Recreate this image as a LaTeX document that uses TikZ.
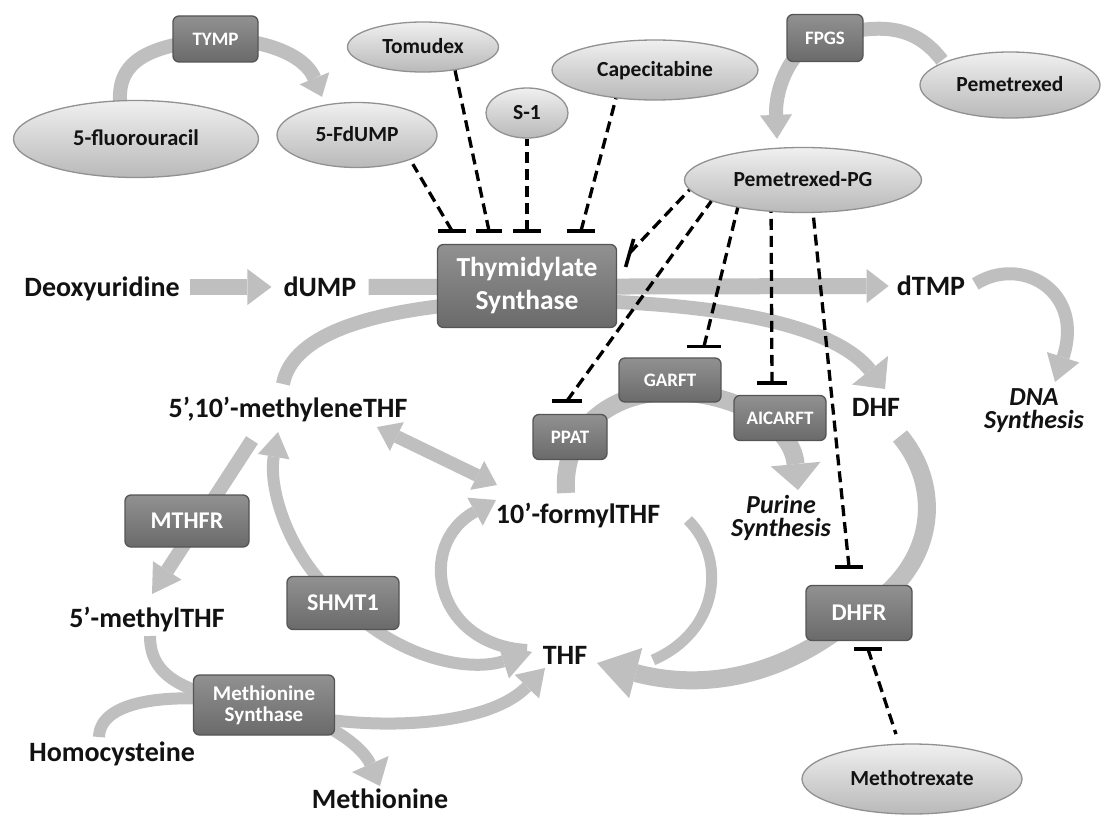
\documentclass[tikz,border=0pt]{standalone}
\usepackage{fontspec}
\setmainfont{Carlito}
\usetikzlibrary{shapes.geometric,arrows.meta,calc}
\definecolor{arrowgray}{RGB}{191,191,191}
\definecolor{elltop}{RGB}{240,240,240}
\definecolor{ellmid}{RGB}{212,212,212}
\definecolor{ellbot}{RGB}{185,185,185}
\definecolor{ellline}{RGB}{145,145,145}
\definecolor{boxtop}{RGB}{145,145,145}
\definecolor{boxbot}{RGB}{106,106,106}
\definecolor{boxline}{RGB}{85,85,85}
\definecolor{txt}{RGB}{18,18,18}
\pgfdeclarelayer{back}
\pgfdeclarelayer{arrows}
\pgfsetlayers{back,arrows,main}
\begin{document}
\begin{tikzpicture}[x=1pt,y=-1pt,
  lab/.style={font=\fontsize{28}{21}\selectfont\bfseries, text=txt, inner sep=0pt, text height=18pt, text depth=0pt},
  itlab/.style={font=\fontsize{26}{23}\selectfont\bfseries\itshape, text=txt, inner sep=0pt, align=center},
  ell/.style={ellipse, draw=ellline, line width=1.3pt, top color=elltop, bottom color=ellbot, middle color=ellmid, inner sep=0pt, font=\fontsize{21.5}{22}\selectfont\bfseries, text=txt, text height=13.8pt, text depth=0pt},
  enzbase/.style={rectangle, rounded corners=6pt, draw=boxline, line width=1.3pt, top color=boxtop, bottom color=boxbot, inner sep=0pt, text=white, align=center},
  enz/.style={enzbase, font=\fontsize{19}{19}\selectfont\bfseries, text height=12.2pt, text depth=0pt},
  enzM/.style={enzbase, font=\fontsize{24}{24}\selectfont\bfseries, text height=15.5pt, text depth=0pt},
  enzTS/.style={enzbase, font=\fontsize{27.5}{33}\selectfont\bfseries},
  enzMS/.style={enzbase, font=\fontsize{21}{21}\selectfont\bfseries},
  garrow/.style={draw=arrowgray, line width=#1},
  garrow/.default=14pt,
  inh/.style={draw=black, line width=3.3pt, dash pattern=on 11pt off 6pt},
  tbar/.style={draw=black, line width=3.6pt}
]
\useasboundingbox (0,0) rectangle (1101,816);
\begin{pgfonlayer}{back}
  \fill[white] (0,0) rectangle (1101,816);
\end{pgfonlayer}

% ---------- drugs (ellipses)
\node[ell, minimum width=245pt, minimum height=77pt, font=\fontsize{22.5}{22}\selectfont\bfseries] (fu) at (136,139) {5-fluorouracil};
\node[ell, minimum width=160pt, minimum height=65pt] (fdump) at (357,135) {5-FdUMP};
\node[ell, minimum width=151pt, minimum height=50pt] (tom) at (423,47) {Tomudex};
\node[ell, minimum width=82pt, minimum height=50pt] (s1) at (527,113) {S-1};
\node[ell, minimum width=206pt, minimum height=60pt] (cap) at (655,70) {Capecitabine};
\node[ell, minimum width=180pt, minimum height=66pt] (pem) at (1010,85) {Pemetrexed};
\node[ell, minimum width=237pt, minimum height=65pt] (pg) at (803,180) {Pemetrexed-PG};
\node[ell, minimum width=220pt, minimum height=70pt] (mtx) at (912,779) {Methotrexate};

% ---------- metabolites
\node[lab] (deox) at (102,287) {Deoxyuridine};
\node[lab] (dump) at (320,287) {dUMP};
\node[lab] (dtmp) at (931,286) {dTMP};
\node[lab] (dhf) at (876,407) {DHF};
\node[itlab] (dna) at (1034,411) {DNA\\Synthesis};
\node[lab] (meth) at (288,408) {5’,10’-methyleneTHF};
\node[lab] (formyl) at (578,514) {10’-formylTHF};
\node[itlab] (purine) at (781,518) {Purine\\Synthesis};
\node[lab] (thf) at (565,655) {THF};
\node[lab] (methyl) at (147,618) {5’-methylTHF};
\node[lab] (homo) at (112,752) {Homocysteine};
\node[lab] (methio) at (380,799) {Methionine};

% ---------- enzymes
\node[enz, minimum width=85pt, minimum height=46pt] (tymp) at (215.5,39) {TYMP};
\node[enz, minimum width=76pt, minimum height=47pt] (fpgs) at (825,38) {FPGS};
\node[enzTS, minimum width=179pt, minimum height=83pt] (ts) at (527,286) {Thymidylate\\Synthase};
\node[enz, minimum width=102pt, minimum height=44pt] (garft) at (670,380) {GARFT};
\node[enz, minimum width=74pt, minimum height=45pt] (ppat) at (570,437) {PPAT};
\node[enz, minimum width=92pt, minimum height=45pt] (aicarft) at (780,418) {AICARFT};
\node[enzM, minimum width=124pt, minimum height=52pt] (mthfr) at (187,521) {MTHFR};
\node[enzM, minimum width=112pt, minimum height=53pt] (shmt) at (343,603) {SHMT1};
\node[enzMS, minimum width=141pt, minimum height=60pt] (ms) at (264,705) {Methionine\\Synthase};
\node[enzM, minimum width=106pt, minimum height=55pt] (dhfr) at (859,613) {DHFR};

% ---------- grey pathway arrows (behind nodes)
\begin{pgfonlayer}{arrows}
% 5-FU -> 5-FdUMP via TYMP
\draw[garrow=14pt, -{Triangle[width=32pt,length=20pt,line width=0pt]}]
  ($(fu.north)+(-16,1)$) .. controls (118,60) and (150,45) .. (tymp.center)
  .. controls (265,39) and (305,55) .. ($(fdump.north)+(-35,-5)$);
% Pemetrexed -> Pemetrexed-PG via FPGS
\draw[garrow=14pt, -{Triangle[width=32pt,length=24pt,line width=0pt]}]
  ($(pem.north)+(-68,9)$) .. controls (915,25) and (880,22) .. (fpgs.center)
  .. controls (790,45) and (775,90) .. ($(pg.north)+(-26,-8)$);
% Deoxyuridine -> dUMP
\draw[garrow=16pt, -{Triangle[width=36pt,length=24pt,line width=0pt]}]
  ($(deox.east)+(10,0)$) -- ($(dump.west)+(-12,0)$);
% dUMP -> dTMP
\draw[garrow=16pt, -{Triangle[width=34pt,length=22pt,line width=0pt]}]
  ($(dump.east)+(12,0)$) -- ($(dtmp.west)+(-8,0)$);
% dTMP -> DNA synthesis
\draw[garrow=13pt, -{Triangle[width=34pt,length=26pt,line width=0pt]}]
  ($(dtmp.east)+(10,-2)$) .. controls (1020,255) and (1085,290) .. ($(dna.center)+(21,-29)$);
% 5,10-methyleneTHF -> TS -> DHF
\draw[garrow=14pt, -{Triangle[width=46pt,length=24pt,line width=0pt]}]
  ($(meth.center)+(-5,-24)$) .. controls (292,335) and (370,305) .. ($(ts.center)+(0,14)$)
  .. controls (700,300) and (830,320) .. ($(dhf.center)+(9,-18)$);
% DHF -> DHFR -> THF
\draw[garrow=18pt, -{Triangle[width=52pt,length=40pt,line width=0pt]}]
  ($(dhf.center)+(24,29)$) .. controls (945,490) and (935,570) .. (dhfr.center)
  .. controls (800,665) and (720,695) .. ($(thf.center)+(32,8)$);
% 10-formylTHF -> PPAT -> GARFT -> AICARFT -> Purine synthesis
\draw[garrow=18pt, -{Triangle[width=50pt,length=26pt,line width=0pt]}]
  ($(formyl.center)+(-12,-21)$) .. controls (562,430) and (610,392) .. ($(garft.center)+(0,12)$)
  .. controls (735,392) and (792,425) .. ($(purine.center)+(17,-28)$);
% 5,10-methyleneTHF <-> 10-formylTHF
\draw[garrow=13pt, {Triangle[width=32pt,length=22pt,line width=0pt]}-{Triangle[width=32pt,length=22pt,line width=0pt]}]
  ($(meth.center)+(89,19)$) -- ($(formyl.center)+(-81,-29)$);
% 10-formylTHF -> THF (right arc)
\draw[garrow=11pt]
  ($(formyl.center)+(110,6)$) .. controls (728,560) and (718,632) .. ($(thf.center)+(88,5)$);
% THF -> 10-formylTHF (left arc)
\draw[garrow=12pt, -{Triangle[width=32pt,length=24pt,line width=0pt]}]
  ($(thf.center)+(-38,-5)$) .. controls (435,645) and (415,545) .. ($(formyl.center)+(-82,-14)$);
% SHMT1 -> THF
\draw[garrow=12pt, -{Triangle[width=36pt,length=30pt,line width=0pt]}]
  (shmt.center) .. controls (400,660) and (470,672) .. ($(thf.center)+(-33,-3)$);
% SHMT1 -> 5,10-methyleneTHF
\draw[garrow=12pt, -{Triangle[width=32pt,length=25pt,line width=0pt]}]
  (shmt.center) .. controls (290,560) and (268,490) .. ($(meth.center)+(-10,24)$);
% MTHFR
\draw[garrow=14pt, -{Triangle[width=34pt,length=28pt,line width=0pt]}]
  ($(meth.center)+(-36,32)$) -- ($(methyl.center)+(5,-24)$);
% 5-methylTHF -> Methionine Synthase -> THF
\draw[garrow=12pt, -{Triangle[width=34pt,length=26pt,line width=0pt]}]
  ($(methyl.center)+(3,18)$) .. controls (150,680) and (190,695) .. (ms.center)
  .. controls (330,730) and (480,735) .. ($(thf.center)+(-20,13)$);
% Homocysteine -> Methionine
\draw[garrow=12pt, -{Triangle[width=40pt,length=24pt,line width=0pt]}]
  ($(homo.center)+(-13,-15)$) .. controls (100,700) and (170,690) .. (ms.center)
  .. controls (320,715) and (362,745) .. ($(methio.center)+(0,-13)$);
\end{pgfonlayer}

% ---------- inhibition bars
\coordinate (b1) at ($(ts.north)+(-75,-13)$);
\coordinate (b2) at ($(ts.north)+(-38,-13)$);
\coordinate (b3) at ($(ts.north)+(0,-13)$);
\coordinate (b4) at ($(ts.north)+(54,-13)$);
\coordinate (bts) at ($(ts.east)+(12.5,-33)$);
\coordinate (bppat) at ($(ppat.north)+(-3,-13)$);
\coordinate (bgarft) at ($(garft.north)+(34,-11)$);
\coordinate (baicarft) at ($(aicarft.north)+(-8,-12)$);
\coordinate (bdhfr1) at ($(dhfr.north)+(-10,-18)$);
\coordinate (bdhfr2) at ($(dhfr.south)+(9,8)$);

\draw[inh, shorten >=5pt] (b1) -- (fdump.-25);
\draw[inh] (b2) -- (tom.-36);
\draw[inh] (b3) -- (s1.south);
\draw[inh] (b4) -- (cap.216);
\draw[inh] (bts) -- (pg.185);
\draw[inh] (bppat) -- (pg.193);
\draw[inh] (bgarft) -- (pg.203);
\draw[inh] (baicarft) -- (pg.225);
\draw[inh] (bdhfr1) -- (pg.287);
\draw[inh, shorten >=10pt] (bdhfr2) -- (mtx.110);

\foreach \b/\w in {b1/14,b2/13,b3/14,b4/14,bppat/15,bgarft/17,baicarft/15,bdhfr1/14,bdhfr2/14}
  \draw[tbar] ($(\b)+(-\w,0)$) -- ($(\b)+(\w,0)$);
\draw[tbar] ($(bts)+(-4,14)$) -- ($(bts)+(4,-14)$);
\end{tikzpicture}
\end{document}
